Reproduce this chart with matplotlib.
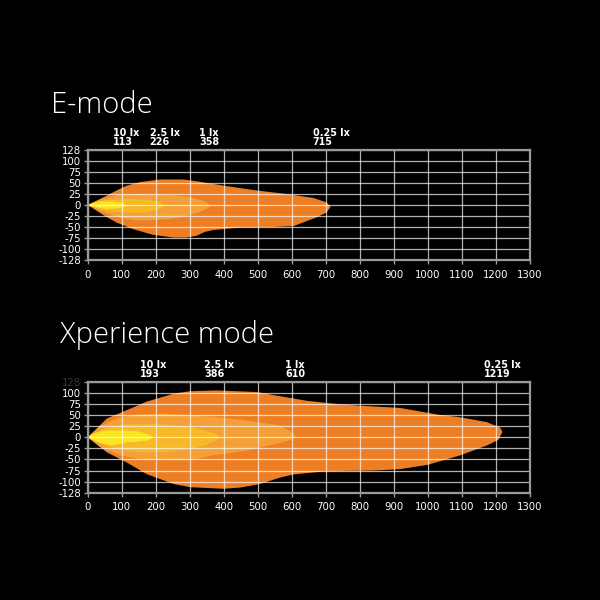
import numpy as np
import matplotlib
matplotlib.use("Agg")
import matplotlib.pyplot as plt
from matplotlib.transforms import blended_transform_factory

# ---------------- data ----------------
x_ticks = [0, 100, 200, 300, 400, 500, 600, 700, 800, 900, 1000, 1100, 1200, 1300]
y_ticks = [128, 100, 75, 50, 25, 0, -25, -50, -75, -100, -128]

# E-mode isolux contours (distance m, lateral m)
e_lux_labels = ["10 lx", "2.5 lx", "1 lx", "0.25 lx"]
e_lux_dist = [113, 226, 358, 715]

e_025_x = [0, 46, 85, 134, 193, 252, 291, 320, 345, 369, 448, 546, 605, 673, 702, 714,
           702, 663, 595, 497, 399, 320, 281, 213, 154, 115, 85, 40]
e_025_y = [0, -23, -40, -55, -68, -74, -74, -70, -61, -57, -51, -50, -48, -28, -17, -4,
           6, 16, 24, 33, 44, 54, 58, 58, 52, 44, 33, 15]
e_1_x = [0, 40, 90, 130, 175, 240, 290, 330, 352, 360, 345, 300, 240, 160, 90, 40]
e_1_y = [0, -16, -28, -34, -35, -32, -26, -16, -8, -1, 8, 18, 23, 25, 23, 14]
e_25_x = [0, 30, 70, 120, 170, 205, 222, 226, 215, 180, 120, 60, 25]
e_25_y = [0, -9, -15, -17, -17, -12, -6, 0, 6, 12, 14, 12, 7]
e_10_x = [0, 25, 55, 85, 105, 113, 100, 70, 35, 12]
e_10_y = [0, -6, -9, -8, -5, 0, 5, 8, 8, 4]

# Xperience mode isolux contours
x_lux_labels = ["10 lx", "2.5 lx", "1 lx", "0.25 lx"]
x_lux_dist = [193, 386, 610, 1219]

x_025_x = [0, 56, 115, 173, 252, 301, 399, 448, 506, 565, 604, 693, 742, 840, 918,
           1000, 1094, 1172, 1207, 1219, 1212, 1192, 1173, 1094, 1036, 918, 800,
           742, 644, 546, 497, 379, 301, 252, 173, 115, 56]
x_025_y = [0, -34, -57, -83, -106, -114, -118, -115, -106, -91, -84, -77, -76, -75, -72,
           -62, -41, -19, -6, 12, 22, 28, 34, 45, 50, 66, 71,
           74, 82, 95, 102, 106, 104, 98, 80, 61, 42]
x_1_x = [0, 36, 95, 160, 221, 300, 369, 467, 565, 600, 610, 604, 565, 467, 369,
         300, 221, 150, 95, 40]
x_1_y = [0, -22, -41, -50, -52, -52, -41, -30, -13, -5, 2, 9, 26, 38, 46,
         50, 53, 51, 45, 26]
x_25_x = [0, 40, 90, 150, 230, 300, 350, 380, 386, 370, 300, 200, 100, 50]
x_25_y = [0, -15, -28, -34, -34, -27, -17, -6, 3, 10, 24, 30, 29, 20]
x_10_x = [0, 30, 70, 110, 150, 180, 193, 185, 150, 100, 50, 15]
x_10_y = [0, -12, -19, -12, -10, -7, 0, 5, 13, 15, 15, 8]

colors = ["#EE7E24", "#F4A036", "#F8B828", "#FAE622"]  # 0.25, 1, 2.5, 10 lx


# ------------- scale: equally spaced grid lines -------------
def fwd(y):
    y = np.asarray(y, dtype=float)
    a = np.abs(y)
    return np.sign(y) * np.where(a <= 100, a / 25.0, 4 + (a - 100) / 28.0)


def inv(u):
    u = np.asarray(u, dtype=float)
    a = np.abs(u)
    return np.sign(u) * np.where(a <= 4, a * 25.0, 100 + (a - 4) * 28.0)


fig = plt.figure(figsize=(6, 6), dpi=100, facecolor="black")


def make_panel(rect, title, title_xy, title_size, contours, lux_labels, lux_dist, dim_top):
    ax = fig.add_axes(rect)
    ax.set_facecolor("black")
    ax.set_yscale("function", functions=(fwd, inv))
    ax.set_xlim(0, 1300)
    ax.set_ylim(-128, 128)
    for (xs, ys), c in zip(contours, colors):
        ax.fill(xs, ys, color=c, lw=0, zorder=1)
    ax.set_xticks(x_ticks)
    ax.set_xticklabels([str(v) for v in x_ticks])
    ax.set_yticks(y_ticks)
    ax.set_yticklabels([str(v) for v in y_ticks])
    ax.minorticks_off()
    ax.grid(True, color="white", alpha=0.7, lw=0.9, zorder=3)
    ax.set_axisbelow(False)
    for s in ax.spines.values():
        s.set_color("#9a9a9a")
        s.set_linewidth(1.6)
        s.set_zorder(4)
    ax.tick_params(colors="#9a9a9a", labelcolor="white", labelsize=7.3,
                   length=3, width=1, pad=2)
    ax.tick_params(axis="x", pad=4)
    if dim_top:
        ax.get_yticklabels()[0].set_color("#3a3a3a")
    tr = blended_transform_factory(ax.transData, ax.transAxes)
    for lab, d in zip(lux_labels, lux_dist):
        ax.text(d, 1.025, f"{lab}\n{d}", transform=tr, ha="center", va="bottom",
                multialignment="left", color="white", fontsize=6.9,
                fontweight="semibold", linespacing=0.85)
    fig.text(title_xy[0], title_xy[1], title, color="white", fontsize=title_size,
             fontfamily="Open Sans", fontweight="light", ha="left", va="baseline")
    return ax


make_panel([0.1462, 0.5667, 0.7372, 0.1833], "E-mode", (0.085, 1 - 113 / 600), 21,
           [(e_025_x, e_025_y), (e_1_x, e_1_y), (e_25_x, e_25_y), (e_10_x, e_10_y)],
           e_lux_labels, e_lux_dist, False)
make_panel([0.1462, 0.1788, 0.7372, 0.185], "Xperience mode", (0.100, 1 - 343 / 600), 21,
           [(x_025_x, x_025_y), (x_1_x, x_1_y), (x_25_x, x_25_y), (x_10_x, x_10_y)],
           x_lux_labels, x_lux_dist, True)

fig.savefig("out.png", dpi=100, facecolor="black")
